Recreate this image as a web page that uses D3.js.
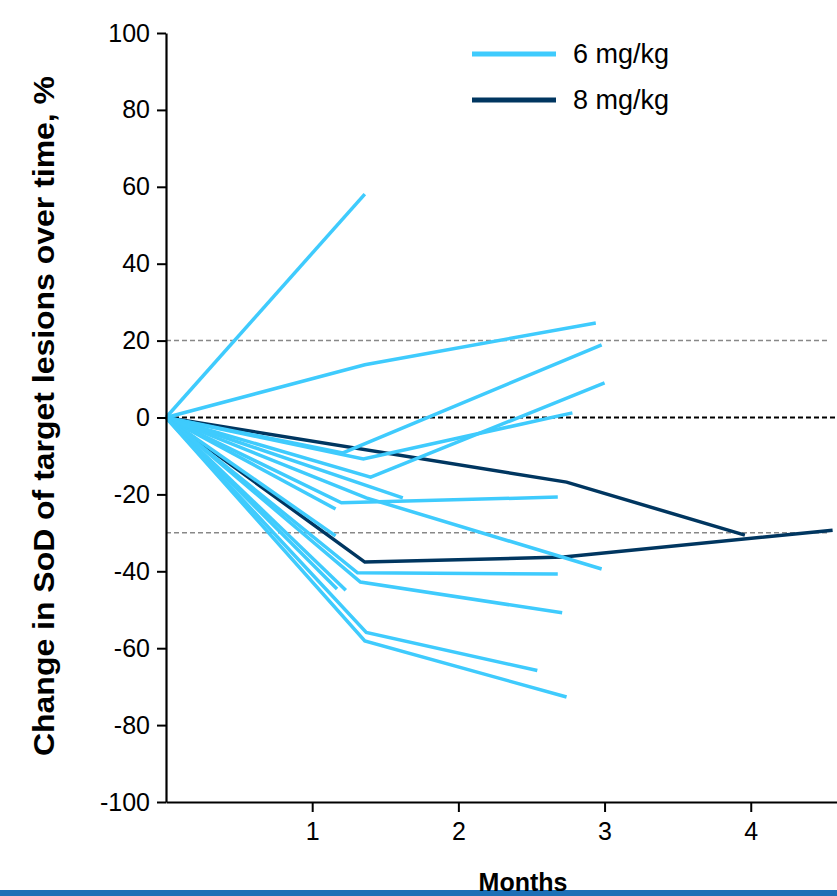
<!DOCTYPE html>
<html lang="en">
<head>
<meta charset="UTF-8">
<title>Change in SoD of target lesions over time</title>
<script src="https://d3js.org/d3.v7.min.js"></script>
<style>
    body { margin: 0; padding: 0; background: #fff; }
    svg { display: block; font-family: "Liberation Sans", Arial, sans-serif; }
</style>
</head>
<body>
<svg id="chart" width="837" height="896"></svg>
<script>
    // months / % change for each patient
    const dose6 = [
        [[0, 0], [1.36, 58.1]],
        [[0, 0], [1.36, 13.7], [2.94, 24.6]],
        [[0, 0], [1.21, -9.2], [2.98, 18.9]],
        [[0, 0], [1.35, -10.8], [2.78, 1.2]],
        [[0, 0], [1.40, -15.5], [3.00, 9.0]],
        [[0, 0], [1.62, -20.9]],
        [[0, 0], [1.16, -23.8]],
        [[0, 0], [1.20, -22.2], [2.68, -20.7]],
        [[0, 0], [1.37, -20.9], [2.98, -39.4]],
        [[0, 0], [1.16, -30.8]],
        [[0, 0], [1.17, -44.6]],
        [[0, 0], [1.23, -44.9]],
        [[0, 0], [1.31, -40.4], [2.68, -40.7]],
        [[0, 0], [1.33, -42.8], [2.71, -50.8]],
        [[0, 0], [1.37, -55.9], [2.54, -65.8]],
        [[0, 0], [1.36, -58.1], [2.74, -72.7]]
    ];
    const dose8 = [
        [[0, 0], [2.74, -16.8], [3.96, -30.6]],
        [[0, 0], [1.36, -37.6], [2.72, -36.3], [4.56, -29.3]]
    ];
    const refLines = [20, -30];
    const yTicks = [-100, -80, -60, -40, -20, 0, 20, 40, 60, 80, 100];
    const xTicks = [1, 2, 3, 4];
    const legendItems = ["6 mg/kg", "8 mg/kg"];

    const colors = { light: "#3fcbfd", dark: "#003660" };

    const svg = d3.select("#chart");

    const x = d3.scaleLinear().domain([0, 4.59]).range([166, 837]);
    const y = d3.scaleLinear().domain([-100, 100]).range([802, 33]);

    const line = d3.line().x(d => x(d[0])).y(d => y(d[1]));

    // reference lines
    svg.selectAll(".ref")
        .data(refLines)
        .enter().append("line")
        .attr("x1", x(0)).attr("x2", 830)
        .attr("y1", d => y(d)).attr("y2", d => y(d))
        .attr("stroke", "#888")
        .attr("stroke-width", 1.5)
        .attr("stroke-dasharray", "5,3");

    svg.append("line")
        .attr("x1", x(0)).attr("x2", 837)
        .attr("y1", y(0)).attr("y2", y(0))
        .attr("stroke", "#000")
        .attr("stroke-width", 2)
        .attr("stroke-dasharray", "5,3");

    // patient lines
    svg.selectAll(".d8")
        .data(dose8)
        .enter().append("path")
        .attr("d", line)
        .attr("fill", "none")
        .attr("stroke", colors.dark)
        .attr("stroke-width", 3.5);

    svg.selectAll(".d6")
        .data(dose6)
        .enter().append("path")
        .attr("d", line)
        .attr("fill", "none")
        .attr("stroke", colors.light)
        .attr("stroke-width", 3.5);

    // axes (plain hyphen minus, integer labels)
    const fmt = d => String(d);

    const yAxis = svg.append("g")
        .attr("transform", `translate(${x(0)},0)`)
        .call(d3.axisLeft(y).tickValues(yTicks).tickFormat(fmt).tickSize(9).tickPadding(7).tickSizeOuter(0));

    const xAxis = svg.append("g")
        .attr("transform", `translate(0,${y(-100)})`)
        .call(d3.axisBottom(x).tickValues(xTicks).tickFormat(fmt).tickSize(10).tickPadding(10).tickSizeOuter(0));

    [yAxis, xAxis].forEach(g => {
        g.select(".domain").attr("stroke", "#000").attr("stroke-width", 2.2);
        g.selectAll(".tick line").attr("stroke", "#000").attr("stroke-width", 2);
        g.selectAll(".tick text")
            .attr("fill", "#000")
            .style("font-size", "25px")
            .style("font-family", "'Liberation Sans', Arial, sans-serif");
    });

    // y title
    svg.append("text")
        .attr("transform", "translate(54,416) rotate(-90)")
        .attr("text-anchor", "middle")
        .attr("textLength", 680)
        .attr("lengthAdjust", "spacingAndGlyphs")
        .style("font-size", "30px")
        .style("font-weight", "bold")
        .text("Change in SoD of target lesions over time, %");

    // legend
    const legend = svg.selectAll(".legend")
        .data(legendItems)
        .enter().append("g")
        .attr("transform", (d, i) => `translate(472,${54 + i * 46})`);

    legend.append("line")
        .attr("x1", 0).attr("x2", 84)
        .attr("stroke", (d, i) => i === 0 ? colors.light : colors.dark)
        .attr("stroke-width", 5);

    legend.append("text")
        .attr("x", 101)
        .attr("dy", "0.35em")
        .style("font-size", "27px")
        .text(d => d);

    // blue strip at the bottom, x title drawn over it
    svg.append("rect")
        .attr("x", 0).attr("y", 890)
        .attr("width", 837).attr("height", 6)
        .attr("fill", "#1b6fb6");

    svg.append("text")
        .attr("x", 523)
        .attr("y", 891)
        .attr("text-anchor", "middle")
        .style("font-size", "25px")
        .style("font-weight", "bold")
        .text("Months");
</script>
</body>
</html>
